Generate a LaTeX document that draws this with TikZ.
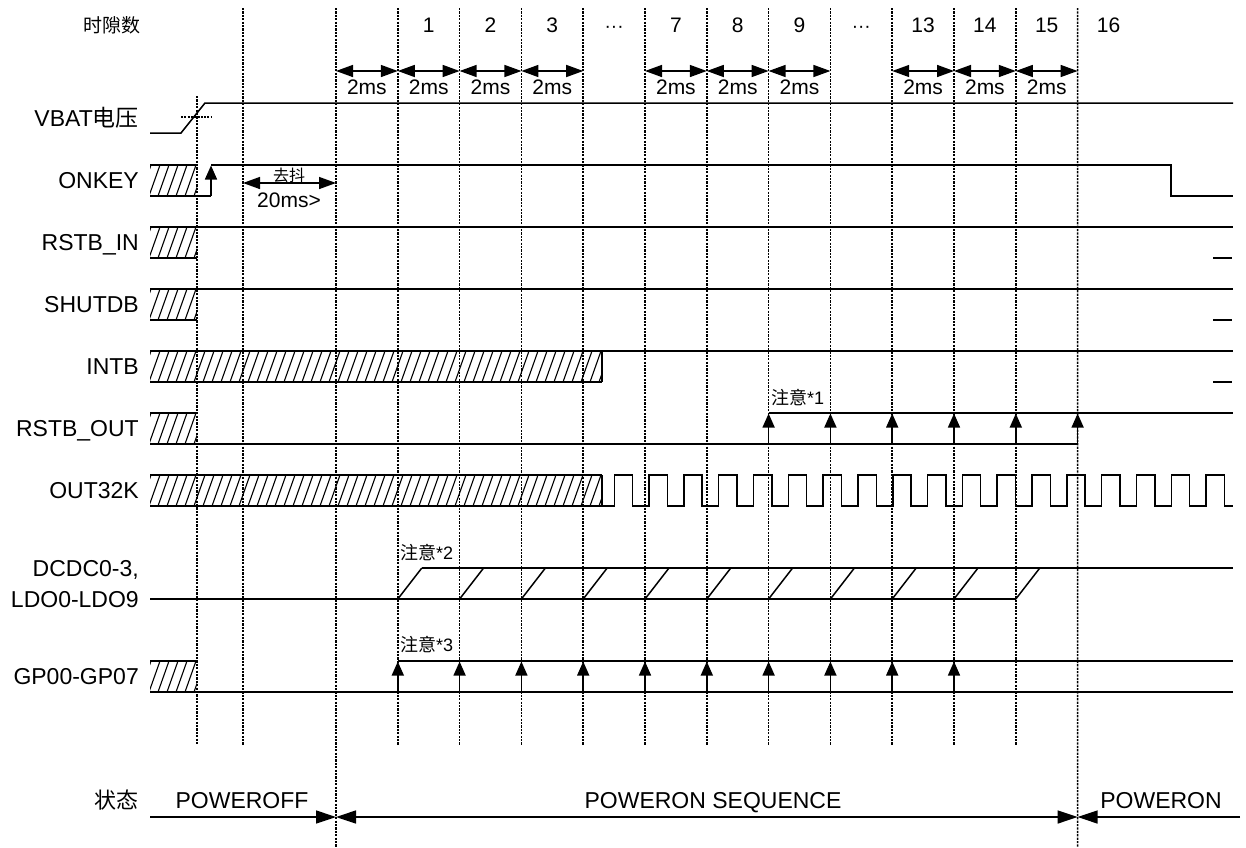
\documentclass[tikz,border=0pt]{standalone}
\usepackage{fontspec}
\setmainfont{Liberation Sans}
\newfontfamily\cjk{Noto Sans CJK SC}
\usetikzlibrary{arrows.meta,calc}
\tikzset{
  sig/.style={line width=1.5pt, black},
  hatchln/.style={line width=1.1pt, black},
  grid/.style={line width=1.7pt, dash pattern=on 2.2pt off 1.2pt},
  lab/.style={font=\fontsize{23}{27}\selectfont, anchor=base east, inner sep=0pt},
  num/.style={font=\fontsize{21}{25}\selectfont, anchor=base, inner sep=0pt},
  note/.style={font=\fontsize{18}{21}\selectfont, anchor=base west, inner sep=0pt},
  st/.style={font=\fontsize{23}{27}\selectfont, anchor=base, inner sep=0pt},
  dbl/.style={line width=1.5pt, {Triangle[length=17pt,width=12pt]}-{Triangle[length=17pt,width=12pt]}},
  tri/.style={line width=1.5pt, -{Triangle[length=20pt,width=13pt]}},
  dbltri/.style={line width=1.5pt, {Triangle[length=20pt,width=13pt]}-{Triangle[length=20pt,width=13pt]}},
  uparr/.style={line width=1.5pt, -{Triangle[length=14pt,width=12pt]}}
}
\newcommand\hatchbox[4]{%
  \begin{scope}
    \clip (#1,#3) rectangle (#2,#4);
    \foreach \h in {131,140,...,#2} \draw[hatchln] (\h,#4) -- (\h+11,#3);
  \end{scope}
  \draw[sig] (#1,#3) -- (#2,#3);
  \draw[sig] (#1,#4) -- (#2,#4);
}
\begin{document}
\begin{tikzpicture}[x=1pt,y=-1pt]
\useasboundingbox (0,0) rectangle (1246,847);
\fill[white] (0,0) rectangle (1246,847);

% ---------- slot grid ----------
\foreach \k in {0,...,12} {
  \pgfmathsetmacro\xx{336+61.8*\k}
  \coordinate (t\k) at (\xx,8);
  \coordinate (b\k) at (\xx,745);
  \coordinate (m\k) at (\xx+30.9,32);
}
\coordinate (b0) at (336,847);
\coordinate (b12) at (1077.6,847);
\coordinate (pa) at (197,96);
\coordinate (pb) at (197,745);
\coordinate (qa) at (243,8);
\coordinate (qb) at (243,745);
\foreach \k in {0,...,12} \draw[grid] (t\k) -- (b\k);
\draw[grid] (pa) -- (pb);
\draw[grid] (qa) -- (qb);

% ---------- slot numbers ----------
\node[num, font=\fontsize{19}{22}\selectfont\cjk] (hdr) at (112,32) {时隙数};
\foreach \k/\t in {1/1,2/2,3/3,5/7,6/8,7/9,9/13,10/14,11/15,12/16}
  \node[num] (n\k) at (m\k) {\t};
\foreach \k in {4,8}
  \node[num, font=\fontsize{19}{22}\selectfont] (d\k) at (m\k) {\textperiodcentered\textperiodcentered\textperiodcentered};

% ---------- 2ms arrows ----------
\coordinate (ya) at (0,71);
\foreach \k/\j in {0/1,1/2,2/3,3/4,5/6,6/7,7/8,9/10,10/11,11/12} {
  \draw[dbl] (t\k |- ya) -- (t\j |- ya);
  \node[num] (ms\k) at ($(m\k)+(0,62)$) {2ms};
}

% ---------- signal labels ----------
\node[lab] (lvbat) at (139,126) {VBAT{\cjk 电压}};
\node[lab] (lonkey) at (139,188) {ONKEY};
\node[lab] (lrstbin) at (139,250) {RSTB\_IN};
\node[lab] (lshut) at (139,312) {SHUTDB};
\node[lab] (lintb) at (139,374) {INTB};
\node[lab] (lrstbout) at (139,436) {RSTB\_OUT};
\node[lab] (lout) at (139,498) {OUT32K};
\node[lab] (ldcdc) at (139,576) {DCDC0-3,};
\node[lab] (lldo) at (139,607) {LDO0-LDO9};
\node[lab] (lgp) at (139,684) {GP00-GP07};

% ---------- VBAT ----------
\draw[sig] (150,133) -- (181,133) -- (205,103) -- (1233,103);
\draw[line width=1.4pt, dash pattern=on 2pt off 1.3pt] (181,117) -- (211,117);

% ---------- ONKEY ----------
\hatchbox{150}{197}{165}{196}
\draw[sig] (197,196) -- (211,196);
\draw[uparr] (211,196) -- (211,165.5);
\draw[sig] (211,165) -- (1171,165) -- (1171,196) -- (1233,196);
\coordinate (da) at (243,183);
\coordinate (db) at (336,183);
\draw[dbl] (da) -- (db);
\node[num, font=\fontsize{16}{19}\selectfont\cjk] (qd) at (289,181) {去抖};
\node[num] (qt) at (289,207) {20ms>};

% ---------- RSTB_IN ----------
\hatchbox{150}{197}{227}{258}
\draw[sig] (197,227) -- (1233,227);
\draw[sig] (1213,258) -- (1232,258);

% ---------- SHUTDB ----------
\hatchbox{150}{197}{289}{320}
\draw[sig] (197,289) -- (1233,289);
\draw[sig] (1213,320) -- (1232,320);

% ---------- INTB ----------
\hatchbox{150}{602}{351}{382}
\draw[sig] (602,351) -- (602,382);
\draw[sig] (602,351) -- (1233,351);
\draw[sig] (1213,382) -- (1232,382);

% ---------- RSTB_OUT ----------
\hatchbox{150}{197}{413}{444}
\draw[sig] (197,444) -- (1077.6,444);
\draw[sig] (768.6,413) -- (1233,413);
\coordinate (ro1) at (0,444);
\coordinate (ro2) at (0,413.5);
\foreach \k in {7,...,12} \draw[uparr] (t\k |- ro1) -- (t\k |- ro2);
\node[note] (n1) at (771,404) {{\cjk 注意}*1};

% ---------- OUT32K ----------
\hatchbox{150}{602}{475}{506}
\draw[sig] (602,475) -- (602,506);
\draw[sig] (602,506) \foreach \i in {0,...,17} {
   -- ({614.3+34.81*\i},506) -- ({614.3+34.81*\i},475)
   -- ({632.6+34.81*\i},475) -- ({632.6+34.81*\i},506) } -- (1233,506);

% ---------- DCDC / LDO ----------
\draw[sig] (150,599) -- (1015.8,599);
\draw[sig] (421.8,568) -- (1233,568);
\coordinate (dl) at (0,599);
\foreach \k in {1,...,11} \draw[sig] (t\k |- dl) -- ++(24,-31);
\node[note] (n2) at (400,559) {{\cjk 注意}*2};

% ---------- GP00-GP07 ----------
\hatchbox{150}{197}{661}{692}
\draw[sig] (197,692) -- (1233,692);
\draw[sig] (397.8,661) -- (1233,661);
\coordinate (g1) at (0,692);
\coordinate (g2) at (0,661.5);
\foreach \k in {1,...,10} \draw[uparr] (t\k |- g1) -- (t\k |- g2);
\node[note] (n3) at (400,651) {{\cjk 注意}*3};

% ---------- states ----------
\node[lab, font=\fontsize{22}{26}\selectfont\cjk] (lst) at (139,808) {状态};
\node[st] (soff) at (242,808) {POWEROFF};
\node[st] (sseq) at (713,808) {POWERON SEQUENCE};
\node[st] (son) at (1161,808) {POWERON};
\coordinate (a0) at (150,817);
\coordinate (yb) at (0,817);
\coordinate (a3) at (1240,817);
\draw[tri] (a0) -- (t0 |- yb);
\draw[dbltri] (t0 |- yb) -- (t12 |- yb);
\draw[tri] (a3) -- (t12 |- yb);
\end{tikzpicture}
\end{document}
